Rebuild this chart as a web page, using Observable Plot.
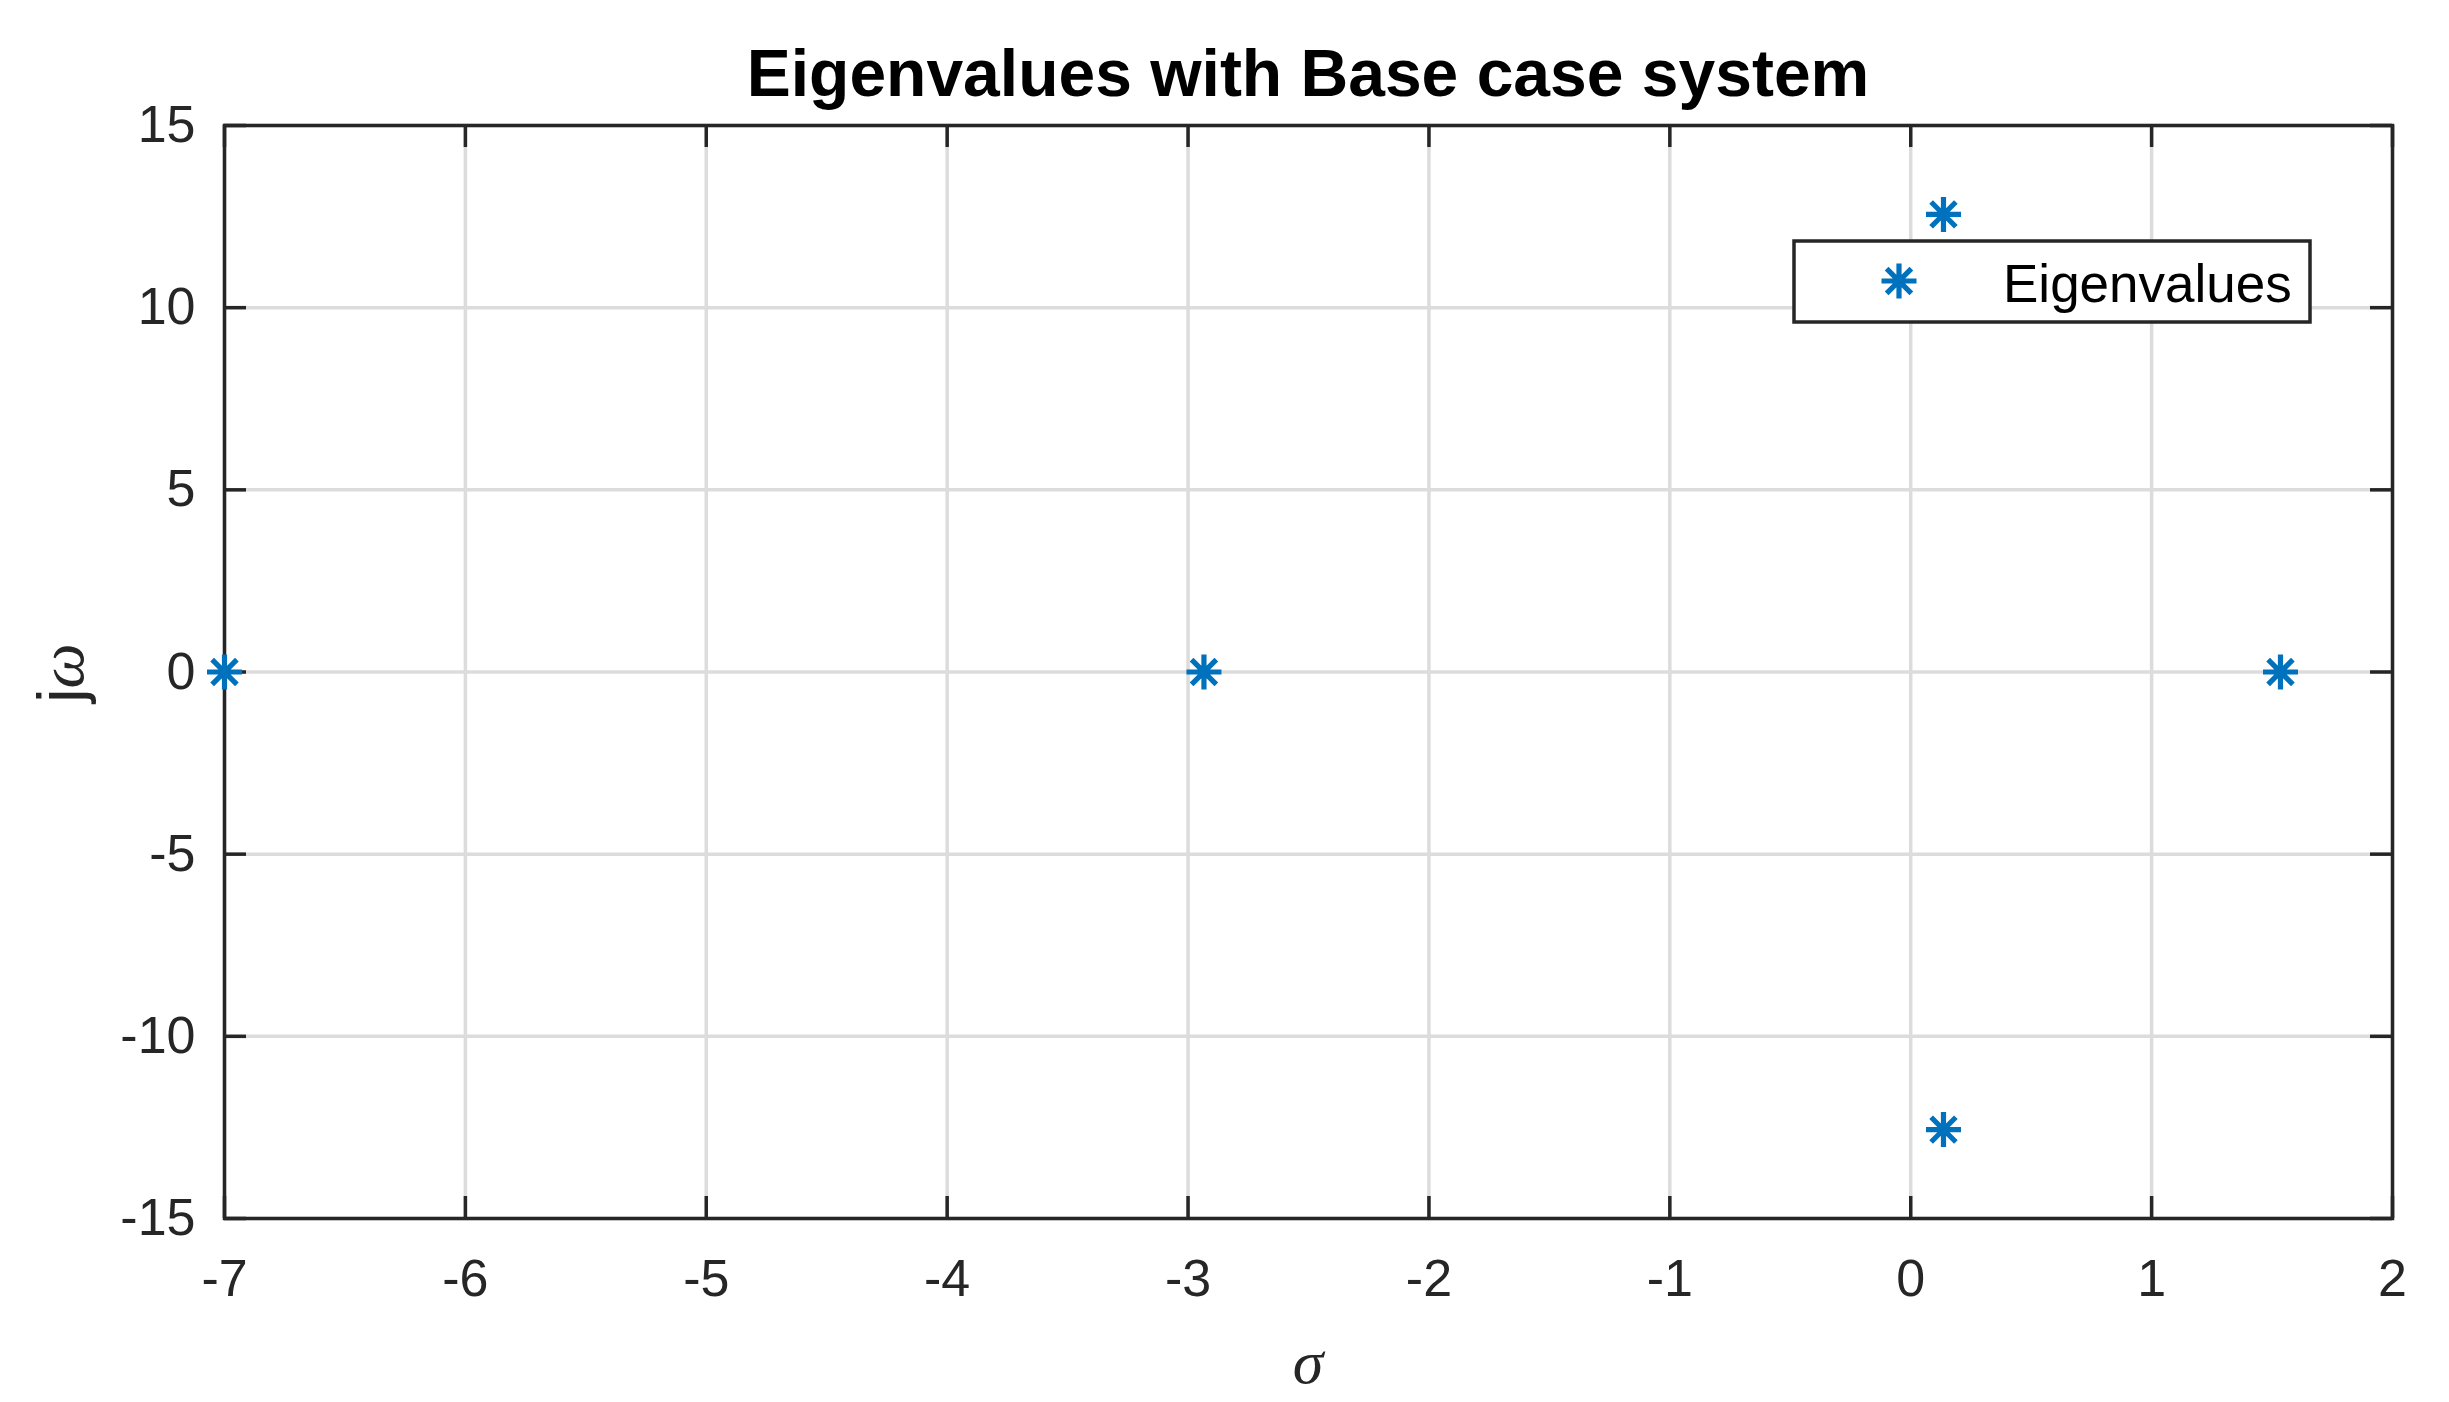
<!DOCTYPE html>
<html><head><meta charset="utf-8">
<script src="https://cdn.jsdelivr.net/npm/d3@7"></script>
<script src="https://cdn.jsdelivr.net/npm/@observablehq/plot@0.6"></script>
<style>
html,body{margin:0;padding:0;background:#fff;overflow:hidden;}
#chart{position:relative;width:2449px;height:1402px;}
</style></head><body><div id="chart"></div>
<script>
// ---- data ----
const sigma = [-7, -2.934, 0.136, 0.136, 1.535];
const omega = [0, 0, 12.56, -12.56, 0];
const xTicks = [-7, -6, -5, -4, -3, -2, -1, 0, 1, 2];
const xTickLabels = ["-7", "-6", "-5", "-4", "-3", "-2", "-1", "0", "1", "2"];
const yTicks = [-15, -10, -5, 0, 5, 10, 15];
const yTickLabels = ["-15", "-10", "-5", "0", "5", "10", "15"];
const titleText = "Eigenvalues with Base case system";
const xLabelText = "σ";
const yLabelParts = ["j", "ω"];
const legendLabel = "Eigenvalues";

// ---- style ----
const W = 2449, H = 1402;
const mL = 224, mR = 57, mT = 125, mB = 184;
const innerW = W - mL - mR, innerH = H - mT - mB;
const BLUE = "#0072BD", AX = "#262626", GRID = "#dcdcdc";
const tickLen = 22, lw = 3.5;
const sans = "'Liberation Sans', Arial, Helvetica, sans-serif";
const serif = "'Liberation Serif', 'Times New Roman', serif";

const points = sigma.map((s, i) => ({sigma: s, omega: omega[i]}));

// MATLAB-style asterisk: 4 lines through the centre
const asterisk = {
  draw(context, size) {
    const r = Math.sqrt(size / Math.PI);
    const d = r * Math.SQRT1_2;
    context.moveTo(-r, 0); context.lineTo(r, 0);
    context.moveTo(0, -r); context.lineTo(0, r);
    context.moveTo(-d, -d); context.lineTo(d, d);
    context.moveTo(-d, d); context.lineTo(d, -d);
  }
};

const chart = Plot.plot({
  width: W, height: H,
  marginLeft: mL, marginRight: mR, marginTop: mT, marginBottom: mB,
  style: {fontFamily: sans, fontSize: "52px", color: AX, background: "#fff", overflow: "visible"},
  x: {domain: [-7, 2], label: null},
  y: {domain: [-15, 15], label: null},
  marks: [
    Plot.gridX(xTicks, {stroke: GRID, strokeOpacity: 1, strokeWidth: lw}),
    Plot.gridY(yTicks, {stroke: GRID, strokeOpacity: 1, strokeWidth: lw}),
    Plot.axisX({anchor: "bottom", ticks: xTicks, tickSize: 0, tickPadding: 41, label: null,
      tickFormat: (d) => xTickLabels[xTicks.indexOf(d)], fontSize: 52, fill: AX}),
    Plot.axisY({anchor: "left", ticks: yTicks, tickSize: 0, tickPadding: 29, label: null,
      tickFormat: (d) => yTickLabels[yTicks.indexOf(d)], fontSize: 52, fill: AX}),
    // inward ticks on all four sides
    Plot.ruleX(xTicks, {stroke: AX, strokeWidth: lw, insetTop: innerH - tickLen}),
    Plot.ruleX(xTicks, {stroke: AX, strokeWidth: lw, insetBottom: innerH - tickLen}),
    Plot.ruleY(yTicks, {stroke: AX, strokeWidth: lw, insetRight: innerW - tickLen}),
    Plot.ruleY(yTicks, {stroke: AX, strokeWidth: lw, insetLeft: innerW - tickLen}),
    Plot.frame({stroke: AX, strokeWidth: lw}),
    Plot.dot(points, {x: "sigma", y: "omega", symbol: asterisk, r: 17.5,
      stroke: BLUE, strokeWidth: 5.2, fill: "none"})
  ]
});
document.getElementById("chart").appendChild(chart);

const svg = d3.select(chart);
const cx = mL + innerW / 2;

// title
svg.append("text").attr("x", cx).attr("y", 96).attr("text-anchor", "middle")
  .attr("font-family", sans).attr("font-weight", "bold").attr("font-size", 66)
  .attr("fill", "#000").text(titleText);

// x label
svg.append("text").attr("x", cx).attr("y", 1383).attr("text-anchor", "middle")
  .attr("font-family", serif).attr("font-style", "italic").attr("font-size", 62)
  .attr("fill", AX).text(xLabelText);

// y label
const yl = svg.append("text").attr("transform", "translate(83,673) rotate(-90)")
  .attr("text-anchor", "middle").attr("font-size", 64).attr("fill", AX);
yl.append("tspan").attr("font-family", sans).text(yLabelParts[0]);
yl.append("tspan").attr("font-family", serif).attr("font-style", "italic").text(yLabelParts[1]);

// legend box
const lg = svg.append("g");
const lx = mL + innerW - 82 - 516, ly = mT + 116;
lg.append("rect").attr("x", lx).attr("y", ly).attr("width", 516).attr("height", 81)
  .attr("fill", "#fff").attr("stroke", AX).attr("stroke-width", lw);
const r = 17.5, sx = lx + 105, sy = ly + 40;
const p = d3.path();
asterisk.draw(p, r * r * Math.PI);
lg.append("path").attr("d", p.toString()).attr("transform", `translate(${sx},${sy})`)
  .attr("fill", "none").attr("stroke", BLUE).attr("stroke-width", 5.2);
lg.append("text").attr("x", lx + 209).attr("y", ly + 61).attr("text-anchor", "start")
  .attr("font-family", sans).attr("font-size", 53).attr("fill", "#000").text(legendLabel);
</script>
</body></html>
